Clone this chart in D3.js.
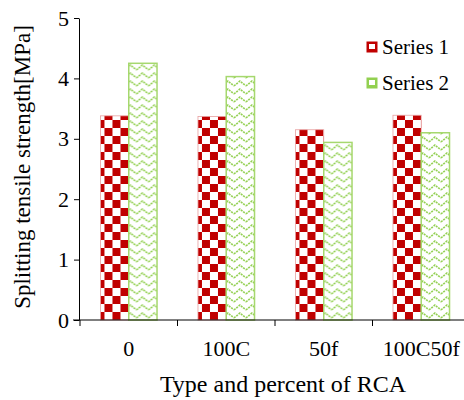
<!DOCTYPE html>
<html>
<head>
<meta charset="utf-8">
<script src="https://cdn.jsdelivr.net/npm/d3@7"></script>
<style>
body { margin: 0; background: #fff; }
text { font-family: "Liberation Serif", "Times New Roman", serif; }
</style>
</head>
<body>
<div id="chart"></div>
<script>
const svgw = 464
const svgh = 400
const categories = ['0', '100C', '50f', '100C50f']
const series1 = [3.38, 3.37, 3.15, 3.39]
const series2 = [4.25, 4.03, 2.94, 3.10]
const seriesNames = ['Series 1', 'Series 2']
const yTicks = [0, 1, 2, 3, 4, 5]

const plotLeft = 79, plotTop = 18, plotBottom = 320

const svg = d3.select('#chart').append('svg')
    .attr('width', svgw)
    .attr('height', svgh)

const defs = svg.append('defs')

// red checkerboard
const checker = defs.append('pattern')
    .attr('id', 'checker')
    .attr('patternUnits', 'userSpaceOnUse')
    .attr('width', 16).attr('height', 16)
    .attr('x', 100).attr('y', 0)
checker.append('rect').attr('width', 16).attr('height', 16).attr('fill', '#fff')
checker.append('rect').attr('width', 8).attr('height', 8).attr('fill', '#c00000')
checker.append('rect').attr('x', 8).attr('y', 8).attr('width', 8).attr('height', 8).attr('fill', '#c00000')

// green zigzag
const zig = defs.append('pattern')
    .attr('id', 'zigzag')
    .attr('patternUnits', 'userSpaceOnUse')
    .attr('width', 12).attr('height', 8)
zig.append('rect').attr('width', 12).attr('height', 8).attr('fill', '#fff')
zig.append('path')
    .attr('d', 'M0,6 L6,1 L12,6')
    .attr('fill', 'none')
    .attr('stroke', '#92d050')
    .attr('stroke-width', 1.6)
    .attr('stroke-dasharray', '2,1')

const x = d3.scaleBand().domain(categories).range([80, 470]).paddingInner(0.42).paddingOuter(0.21)
const xs = d3.scaleBand().domain([0, 1]).range([0, x.bandwidth()])
const y = d3.scaleLinear().domain([0, 5]).range([plotBottom, plotTop])

const groups = svg.selectAll('g.cat')
    .data(categories)
    .enter()
    .append('g')
    .attr('class', 'cat')
    .attr('transform', d => `translate(${x(d)},0)`)

groups.append('rect')
    .attr('x', xs(0))
    .attr('y', (d, i) => y(series1[i]))
    .attr('width', xs.bandwidth())
    .attr('height', (d, i) => y(0) - y(series1[i]))
    .attr('fill', 'url(#checker)')
    .attr('stroke', '#e8a0a0')
    .attr('stroke-width', 0.8)

groups.append('rect')
    .attr('x', xs(1))
    .attr('y', (d, i) => y(series2[i]))
    .attr('width', xs.bandwidth())
    .attr('height', (d, i) => y(0) - y(series2[i]))
    .attr('fill', 'url(#zigzag)')
    .attr('stroke', '#a6d86e')
    .attr('stroke-width', 1.5)

// axes
const yAxis = svg.append('g')
    .attr('transform', `translate(${plotLeft},0)`)
    .call(d3.axisLeft(y).tickValues(yTicks).tickSize(5).tickSizeOuter(0).tickFormat(d3.format('d')))
yAxis.select('.domain').attr('stroke', '#000')
yAxis.selectAll('text').attr('font-size', 22).attr('x', -10).attr('fill', '#000')
    .style('font-family', '"Liberation Serif", serif')

const xBoundary = d3.scaleLinear().domain([0, 4]).range([80, 470])
const xAxis = svg.append('g')
    .attr('transform', `translate(0,${plotBottom})`)
xAxis.append('line').attr('x1', 73).attr('x2', svgw).attr('stroke', '#000')
xAxis.selectAll('line.tk')
    .data([0, 1, 2, 3])
    .enter()
    .append('line')
    .attr('class', 'tk')
    .attr('x1', d => xBoundary(d)).attr('x2', d => xBoundary(d))
    .attr('y1', 0).attr('y2', 6)
    .attr('stroke', '#000')
xAxis.selectAll('text')
    .data(categories)
    .enter()
    .append('text')
    .attr('x', d => x(d) + x.bandwidth() / 2)
    .attr('y', 36)
    .attr('text-anchor', 'middle')
    .attr('font-size', 22)
    .text(d => d)

svg.append('text')
    .attr('x', 283).attr('y', 392)
    .attr('text-anchor', 'middle')
    .attr('font-size', 24)
    .text('Type and percent of RCA')

svg.append('text')
    .attr('transform', 'translate(30,167) rotate(-90)')
    .attr('text-anchor', 'middle')
    .attr('font-size', 23)
    .text('Splitting tensile strength[MPa]')

// legend
const legend = svg.append('g')
const strokes = ['#c00000', '#92d050']
seriesNames.forEach((name, i) => {
    const ly = 47 + i * 36
    legend.append('rect')
        .attr('x', 367).attr('y', ly - 5).attr('width', 10).attr('height', 10)
        .attr('fill', strokes[i]).attr('stroke', strokes[i])
    legend.append('rect')
        .attr('x', 369).attr('y', ly - 3).attr('width', 6).attr('height', 5)
        .attr('fill', '#fff')
    legend.append('text')
        .attr('x', 382).attr('y', ly + 7)
        .attr('font-size', 21)
        .text(name)
})
</script>
</body>
</html>
